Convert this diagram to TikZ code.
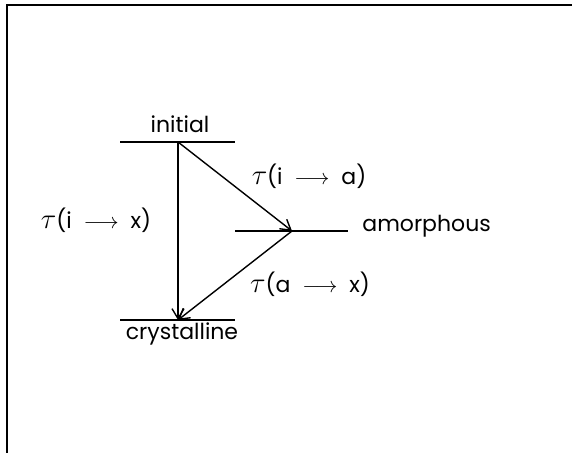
\documentclass[tikz,border=0pt]{standalone}
\usepackage{fontspec}
\setmainfont{Poppins}
\usetikzlibrary{arrows.meta}
\newcommand{\tauT}{{\fontsize{14}{14}\selectfont$\tau$}}
\newcommand{\arrT}{\ \ $\longrightarrow$\ \ }

\begin{document}
\begin{tikzpicture}[x=.5pt,y=-.5pt,
  level/.style={line width=.7pt},
  trans/.style={line width=.7pt,-{Straight Barb[length=5pt,width=6pt]}},
  lab/.style={font=\fontsize{11}{14}\selectfont,inner sep=0pt,anchor=base}]
\useasboundingbox (0,0) rectangle (572,453);
% frame, open to the right and bottom
\draw[line width=.7pt] (572,5) -- (7,5) -- (7,453);
% energy levels
\foreach \n/\a/\b/\y in {ini/120/235/142,amo/235/348/231,cry/120/235/320}{
 \draw[level] (\a,\y) coordinate (\n L) -- (\b,\y) coordinate (\n R);
}
\coordinate (ini) at (178,142);
\coordinate (amo) at (292,231);
\coordinate (cry) at (178,320);
\node[lab] (tini) at (180,133) {initial};
\node[lab] (tcry) at (182,340) {crystalline};
\node[lab,anchor=base west] (tamo) at (362,232) {amorphous};
% transitions
\draw[trans] (ini) -- (cry);
\draw[trans] (ini) -- (amo);
\draw[trans] (amo) -- (cry);
\node[lab] (tix) at (96,229) {\tauT(i\arrT x)};
\node[lab] (tia) at (309,185) {\tauT(i\arrT a)};
\node[lab] (tax) at (310,293) {\tauT(a\arrT x)};
\end{tikzpicture}
\end{document}
